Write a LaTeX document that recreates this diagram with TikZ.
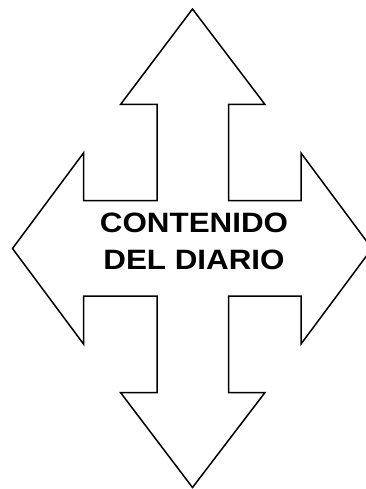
\documentclass[tikz,border=0pt]{standalone}
\usepackage{fontspec}
\setmainfont{Liberation Sans}
\newfontfamily\diariofont[FakeStretch=1.12]{Liberation Sans}
\begin{document}
\begin{tikzpicture}[x=1pt, y=-1pt]
	\tikzstyle{every node}=[inner sep=0pt, align=center]
	\tikzstyle{cruz}=[line width=1.5pt, line join=miter]
	\tikzstyle{rotulo}=[font=\diariofont\bfseries\fontsize{28}{37.3}\selectfont]
	\useasboundingbox (0, 0) rectangle (365, 489);
	% flecha de cuatro puntas
	\draw [cruz] (192.5, 9) -- (265, 104.5) -- (228.5, 104.5) -- (228.5, 200.5)
		-- (301, 200.5) -- (301, 153) -- (372, 248.5) -- (301, 344) -- (301, 296)
		-- (228.5, 296) -- (228.5, 392.5) -- (265, 392.5) -- (192.5, 487.5)
		-- (120.5, 392.5) -- (157, 392.5) -- (157, 296) -- (83.5, 296) -- (83.5, 344)
		-- (12.5, 248.5) -- (83.5, 153) -- (83.5, 200.5) -- (157, 200.5)
		-- (157, 104.5) -- (120.5, 104.5) -- cycle;
	\node [rotulo] (texto) at (194, 241.5) {CONTENIDO\\DEL DIARIO};
\end{tikzpicture}
\end{document}
